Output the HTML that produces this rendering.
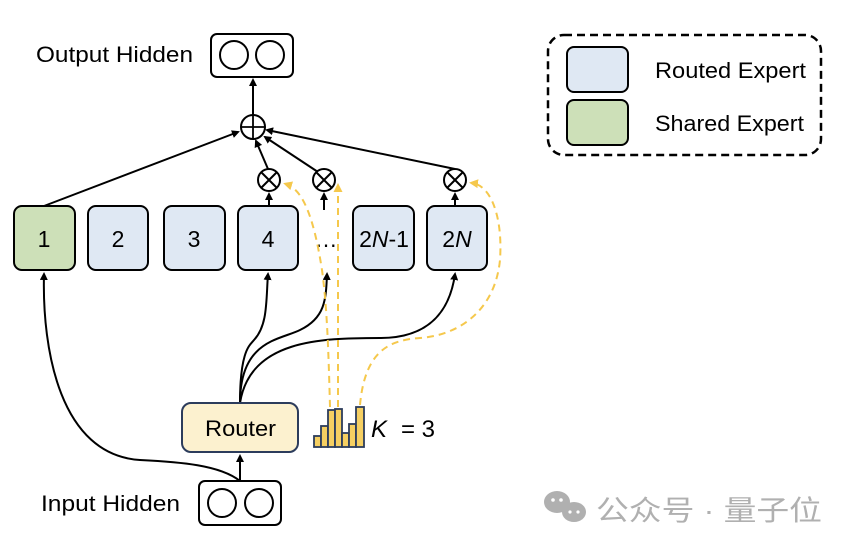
<!DOCTYPE html>
<html><head><meta charset="utf-8"><style>
html,body{margin:0;padding:0;background:#fff}
svg{display:block}
text{font-family:"Liberation Sans","Noto Sans CJK SC",sans-serif}
</style></head><body>
<svg width="861" height="553" viewBox="0 0 861 553" xmlns="http://www.w3.org/2000/svg">
<defs>
<marker id="a" markerWidth="8" markerHeight="8" refX="6" refY="4" orient="auto" markerUnits="userSpaceOnUse"><path d="M0,0 L8,4 L0,8 Z" fill="#000"/></marker>
<marker id="y" markerWidth="9" markerHeight="9" refX="6" refY="4.5" orient="auto" markerUnits="userSpaceOnUse"><path d="M0,0 L9,4.5 L0,9 Z" fill="#f5c84c"/></marker>
</defs>
<!-- output hidden -->
<text x="36" y="62" font-size="22" textLength="157" lengthAdjust="spacingAndGlyphs">Output Hidden</text>
<rect x="211" y="34" width="82" height="43" rx="6" fill="#fff" stroke="#000" stroke-width="2"/>
<circle cx="234" cy="55" r="14" fill="none" stroke="#000" stroke-width="2"/>
<circle cx="270" cy="55" r="14" fill="none" stroke="#000" stroke-width="2"/>
<line x1="253" y1="115" x2="253" y2="80" stroke="#000" stroke-width="2" marker-end="url(#a)"/>
<circle cx="253" cy="127" r="12" fill="#fff" stroke="#000" stroke-width="2"/>
<line x1="241" y1="127" x2="265" y2="127" stroke="#000" stroke-width="1.8"/>
<line x1="253" y1="115" x2="253" y2="139" stroke="#000" stroke-width="1.8"/>
<!-- lines into plus -->
<line x1="44" y1="206" x2="238" y2="132" stroke="#000" stroke-width="2" marker-end="url(#a)"/>
<line x1="268" y1="169" x2="256" y2="141" stroke="#000" stroke-width="2" marker-end="url(#a)"/>
<line x1="318" y1="172" x2="265" y2="137" stroke="#000" stroke-width="2" marker-end="url(#a)"/>
<line x1="455" y1="169" x2="267" y2="130" stroke="#000" stroke-width="2" marker-end="url(#a)"/>
<!-- otimes -->
<g stroke="#000" stroke-width="2" fill="#fff">
<circle cx="269" cy="180" r="11"/><path d="M261,172 L277,188 M277,172 L261,188"/>
<circle cx="324" cy="180" r="11"/><path d="M316,172 L332,188 M332,172 L316,188"/>
<circle cx="455" cy="180" r="11"/><path d="M447,172 L463,188 M463,172 L447,188"/>
</g>
<line x1="269" y1="206" x2="269" y2="194" stroke="#000" stroke-width="2" marker-end="url(#a)"/>
<line x1="324" y1="210" x2="324" y2="194" stroke="#000" stroke-width="2" marker-end="url(#a)"/>
<line x1="455" y1="206" x2="455" y2="194" stroke="#000" stroke-width="2" marker-end="url(#a)"/>
<!-- experts -->
<g stroke="#000" stroke-width="2">
<rect x="14" y="206" width="61" height="64" rx="8" fill="#cde0b8"/>
<rect x="88" y="206" width="60" height="64" rx="8" fill="#dfe8f3"/>
<rect x="164" y="206" width="61" height="64" rx="8" fill="#dfe8f3"/>
<rect x="238" y="206" width="60" height="64" rx="8" fill="#dfe8f3"/>
<rect x="353" y="206" width="61" height="64" rx="8" fill="#dfe8f3"/>
<rect x="427" y="206" width="60" height="64" rx="8" fill="#dfe8f3"/>
</g>
<g font-size="23" text-anchor="middle">
<text x="44" y="247">1</text><text x="118" y="247">2</text><text x="194" y="247">3</text><text x="268" y="247">4</text>
<text x="326" y="247">…</text>
<text x="384" y="247" font-family="Liberation Serif,serif">2<tspan font-style="italic">N</tspan>-1</text>
<text x="457" y="247" font-family="Liberation Serif,serif">2<tspan font-style="italic">N</tspan></text>
</g>
<!-- curves -->
<g fill="none" stroke="#000" stroke-width="2">
<path d="M240,481 C220,465 180,462 140,460 C60,455 42,350 44,274" marker-end="url(#a)"/>
<path d="M240,403 C240,350 250,345 254,340 C268,325 266,300 268,274" marker-end="url(#a)"/>
<path d="M240,403 C240,340 280,340 300,330 C325,318 326,300 327,274" marker-end="url(#a)"/>
<path d="M240,403 C250,340 320,338 380,338 C430,338 450,310 455,274" marker-end="url(#a)"/>
</g>
<!-- yellow dashed -->
<g fill="none" stroke="#f5c84c" stroke-width="2" stroke-dasharray="7,5">
<path d="M330,407 C328,330 326,300 322,270 C315,225 305,190 286,184" marker-end="url(#y)"/>
<path d="M338,407 L338,186" marker-end="url(#y)"/>
<path d="M360,405 C365,350 390,340 420,338 C460,335 495,310 500,260 C503,215 490,185 472,183" marker-end="url(#y)"/>
</g>
<!-- router -->
<rect x="182" y="403" width="116" height="49" rx="9" fill="#fcf1cf" stroke="#2c3c5c" stroke-width="2"/>
<text x="205" y="436" font-size="22" textLength="71" lengthAdjust="spacingAndGlyphs">Router</text>
<line x1="240" y1="481" x2="240" y2="456" stroke="#000" stroke-width="2" marker-end="url(#a)"/>
<!-- bars -->
<g fill="#f5cf62" stroke="#2c3c5c" stroke-width="1.8">
<rect x="314" y="436" width="7" height="11"/><rect x="321" y="426" width="7" height="21"/>
<rect x="328" y="410" width="7" height="37"/><rect x="335" y="409" width="7" height="38"/>
<rect x="342" y="433" width="7" height="14"/><rect x="349" y="424" width="7" height="23"/>
<rect x="356" y="407" width="8" height="40"/>
</g>
<text x="371" y="437" font-size="24" font-family="Liberation Serif,serif" font-style="italic">K</text>
<text x="401" y="437" font-size="24" font-family="Liberation Serif,serif">= 3</text>
<!-- input hidden -->
<text x="41" y="511" font-size="22" textLength="139" lengthAdjust="spacingAndGlyphs">Input Hidden</text>
<rect x="199" y="481" width="82" height="44" rx="6" fill="#fff" stroke="#000" stroke-width="2"/>
<circle cx="222" cy="503" r="14" fill="none" stroke="#000" stroke-width="2"/>
<circle cx="259" cy="503" r="14" fill="none" stroke="#000" stroke-width="2"/>
<!-- legend -->
<rect x="548" y="35" width="273" height="120" rx="16" fill="none" stroke="#000" stroke-width="2.5" stroke-dasharray="8,5"/>
<rect x="567" y="47" width="61" height="45" rx="7" fill="#dfe8f3" stroke="#000" stroke-width="2"/>
<rect x="567" y="100" width="61" height="45" rx="7" fill="#cde0b8" stroke="#000" stroke-width="2"/>
<text x="655" y="78" font-size="22" textLength="151" lengthAdjust="spacingAndGlyphs">Routed Expert</text>
<text x="655" y="131" font-size="22" textLength="149" lengthAdjust="spacingAndGlyphs">Shared Expert</text>
<!-- watermark -->
<g fill="#b0b0b0">
<ellipse cx="557" cy="502" rx="13" ry="11"/>
<ellipse cx="574" cy="512" rx="12" ry="10"/>
</g>
<g fill="#fff"><circle cx="553" cy="500" r="1.8"/><circle cx="561" cy="500" r="1.8"/><circle cx="570" cy="512" r="1.6"/><circle cx="578" cy="512" r="1.6"/></g>
<text x="596" y="520" font-size="28" fill="#b0b0b0" textLength="226" lengthAdjust="spacingAndGlyphs">公众号 · 量子位</text>
</svg>
</body></html>
